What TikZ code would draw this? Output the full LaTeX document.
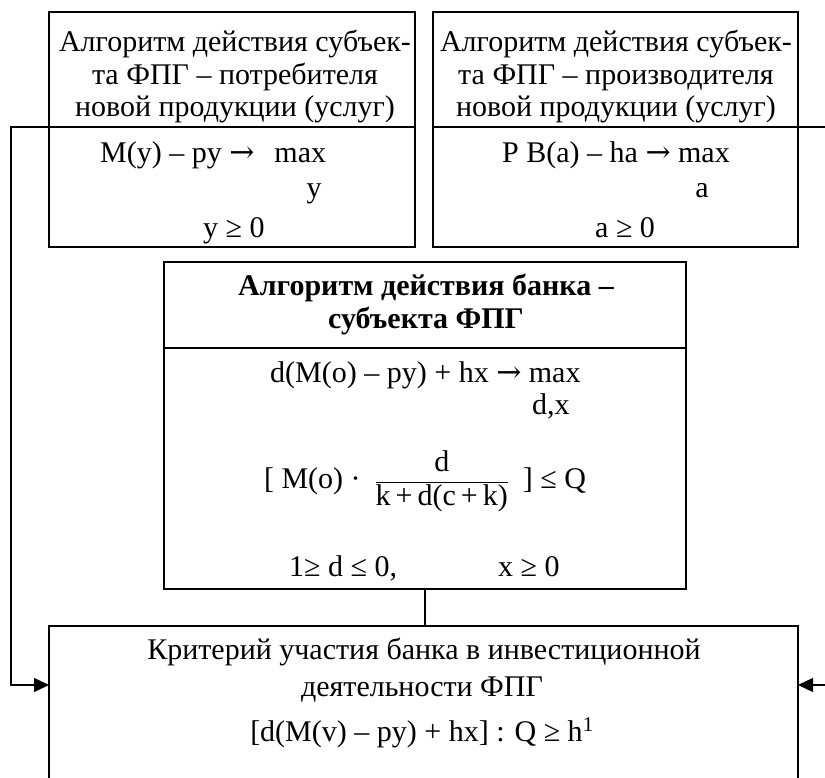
\documentclass[tikz,border=0pt]{standalone}
\usepackage{fontspec}
\setmainfont{Liberation Serif}
\newfontfamily\arrfont{DejaVu Serif}
\usetikzlibrary{arrows.meta}
\newcommand{\myarr}{{\arrfont →}}
\begin{document}
\begin{tikzpicture}[x=1pt,y=-1pt,
  box/.style={draw, line width=1.3pt, anchor=north west, inner sep=0pt, outer sep=0pt},
  ln/.style={line width=1.3pt},
  conn/.style={line width=1.3pt, -{Triangle[length=15pt,width=14pt]}},
  t/.style={inner sep=0pt, font=\fontsize{30}{33}\selectfont, anchor=base},
  tl/.style={t, anchor=base west},
  tb/.style={t, font=\fontsize{30}{33}\selectfont\bfseries},
  ]
\useasboundingbox (0,0) rectangle (825,778);
% boxes
\node[box, minimum width=366pt, minimum height=235pt] (b1) at (49,12) {};
\node[box, minimum width=365pt, minimum height=235pt] (b2) at (433,12) {};
\node[box, minimum width=522pt, minimum height=327pt] (mid) at (164,262) {};
\node[box, draw=none, minimum width=749pt, minimum height=118pt] (bot) at (49,626) {};
\draw[ln] (bot.west |- 0,778) -- (bot.north west) -- (bot.north east) -- (bot.east |- 0,778);
% dividers
\coordinate (b1d) at (49,127);
\coordinate (b2d) at (433,127);
\coordinate (md) at (164,348);
\coordinate (redge1) at (825,127);
\coordinate (redge2) at (825,685);
\draw[ln] (b1d) -- (b1d -| b1.east);
\draw[ln] (b2d) -- (redge1);
\draw[ln] (md) -- (md -| mid.east);
% connectors
\draw[conn] (b1d) -- ++(-38,0) |- (bot.west);
\draw[conn] (redge2) -- (bot.east);
\draw[ln] (mid.south) -- (mid.south |- bot.north);
% box 1 text
\node[t] (b1t1) at (235,52) {Алгоритм действия субъек-};
\node[t] (b1t2) at (235,85) {та ФПГ – потребителя};
\node[t] (b1t3) at (235,117) {новой продукции (услуг)};
\node[tl] (b1f1) at (100,163) {M(y) – py \myarr\hspace{20pt}max};
\node[t] (b1f2) at (314,198) {y};
\node[tl] (b1f3) at (203,238) {y ≥ 0};
% box 2 text
\node[t] (b2t1) at (616,52) {Алгоритм действия субъек-};
\node[t] (b2t2) at (616,85) {та ФПГ – производителя};
\node[t] (b2t3) at (616,117) {новой продукции (услуг)};
\node[tl] (b2f1) at (502,163) {P B(a) – ha \myarr{} max};
\node[t] (b2f2) at (702,198) {a};
\node[tl] (b2f3) at (595,238) {a ≥ 0};
% middle text
\node[tb] (mt1) at (426,295) {Алгоритм действия банка –};
\node[tb] (mt2) at (426,328) {субъекта ФПГ};
\node[tl] (mf1) at (270,382) {d(M(o) – py) + hx \myarr{} max};
\node[tl] (mf2) at (532,414) {d,x};
\node[t] (mf3) at (425,488) {$\mbox{[ M(o) ·}\;\;{\displaystyle\frac{\mbox{d}}{\mbox{k\,+\,d(c\,+\,k)}}}\;\;\mbox{] ≤ Q}$};
\node[tl] (mf4) at (289,576) {1≥ d ≤ 0,};
\node[tl] (mf5) at (498,576) {x ≥ 0};
% bottom text
\node[t] (bt1) at (424,659) {Критерий участия банка в инвестиционной};
\node[t] (bt2) at (422,696) {деятельности ФПГ};
\node[t] (bt3) at (422,741) {[d(M(v) – py) + hx] : Q ≥ h\textsuperscript{1}};
\end{tikzpicture}
\end{document}
